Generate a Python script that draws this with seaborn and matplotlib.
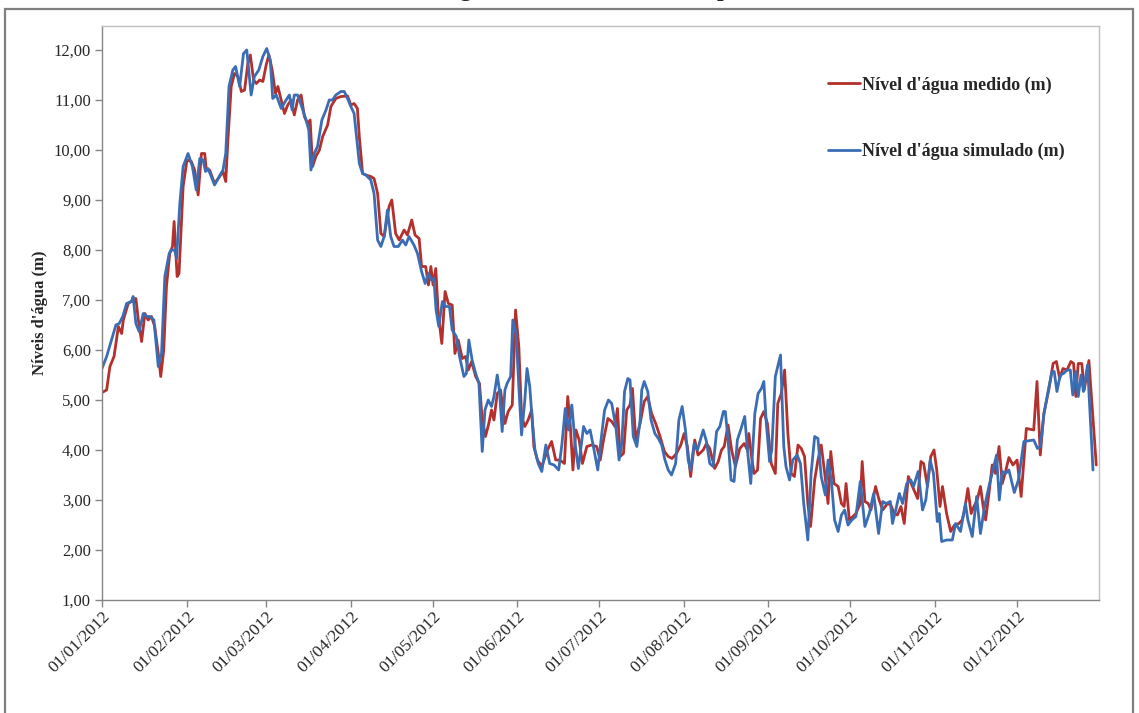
import numpy as np
import pandas as pd
import matplotlib
matplotlib.use("Agg")
import matplotlib.pyplot as plt
import matplotlib.dates as mdates
from matplotlib.patches import Rectangle
from matplotlib.ticker import FuncFormatter
import seaborn as sns

# Measured water level (m): day of year 2012 (0 = 01/01) and level
medido_dias = [
    0, 1.7, 2.9, 4.4, 6.0, 7.2, 7.8, 9.6, 11.4, 12.4, 13.3, 14.5, 15.7, 16.9, 18.1, 19.3,
    20.6, 21.5, 22.6, 23.6, 24.8, 25.8, 26.4, 27.5, 28.2, 29.7, 31.1, 32.7, 33.9, 35.2,
    36.4, 37.6, 38.2, 39.4, 41.2, 43.1, 44.3, 45.3, 46.1, 47.3, 48.5, 49.8, 51.0, 52.2,
    53.4, 54.3, 55.5, 56.5, 57.7, 58.9, 60.1, 61.1, 62.3, 63.5, 64.4, 65.6, 66.8, 68.0,
    69.2, 70.4, 71.6, 72.9, 74.1, 75.3, 76.2, 77.1, 78.3, 79.6, 80.8, 82.6, 83.8, 85.6,
    87.5, 89.9, 91.1, 92.3, 93.5, 94.2, 95.4, 96.6, 98.4, 99.6, 100.9, 102.1, 103.3,
    105.1, 106.1, 107.5, 108.8, 110.6, 111.8, 113.4, 114.6, 116.1,
    117.0, 118.5, 119.5, 120.4, 121.2, 122.2, 123.1, 124.4, 125.6, 126.8, 128.2, 129.2,
    130.4, 131.9, 133.1, 134.1, 135.3, 136.8, 138.2, 139.2, 140.4, 141.6, 142.6, 143.5,
    144.7, 145.9, 147.5, 148.7, 150.2, 151.4, 152.6, 153.6, 154.8, 156.0, 157.3, 158.1,
    159.4, 161.0, 163.1, 164.6, 166.1,
    167.6, 169.3, 170.5, 171.4, 172.4, 173.5, 174.7, 175.9, 177.5, 179.3, 181.1, 182.4,
    183.6, 185.2, 186.6, 187.8, 188.7, 189.7, 190.9, 192.1, 193.3, 194.2, 195.4, 197.0,
    198.5, 199.8, 201.2, 202.7, 204.3, 205.9, 207.3, 208.7, 210.3, 211.9, 213.1, 214.3,
    215.5, 217.0,
    218.2, 220.1, 221.3, 222.5, 224.3, 225.6, 226.8, 227.8, 229.2, 230.5, 231.9, 233.5,
    235.1, 236.3, 236.8, 237.8, 238.7, 240.0, 241.1, 242.3, 243.6, 245.0, 246.5, 247.4,
    248.7, 249.9, 251.1, 252.3, 253.5, 254.8, 256.0, 257.2, 258.4, 259.4, 260.9, 262.1,
    263.3, 264.6, 265.8, 266.8, 268.0, 269.5, 270.7, 271.7, 272.4, 273.6,
    276.0, 277.6, 278.3, 279.3, 280.5, 281.5, 283.2, 284.5, 285.8, 287.6, 288.8, 290.0,
    291.2, 292.5, 293.7, 295.2, 296.7, 298.6, 299.8, 300.8, 302.2, 303.4, 304.6, 305.6,
    306.8, 307.7, 309.2, 310.7, 312.1, 313.7, 314.9, 315.8, 317.0, 318.2, 319.2, 320.4,
    321.6, 322.6, 323.5, 324.7, 325.9, 327.1, 328.4, 329.6, 330.8,
    332.0, 333.5, 335.0, 336.5, 338.4, 341.1, 342.3, 343.5, 344.8, 346.6, 348.2, 349.4,
    350.6, 351.8, 353.3, 354.7, 355.7, 356.5, 357.4, 358.7, 359.6, 361.3, 364.0,
]
medido_niveis = [
    5.15, 5.20, 5.67, 5.87, 6.47, 6.33, 6.60, 6.93, 7.00, 7.03, 6.60, 6.17, 6.73, 6.60, 6.67, 6.47,
    5.93, 5.47, 6.00, 7.27, 7.93, 8.07, 8.57, 7.47, 7.53, 9.27, 9.80, 9.77, 9.60, 9.10,
    9.93, 9.93, 9.60, 9.60, 9.33, 9.47, 9.57, 9.37, 10.20, 11.27, 11.53, 11.47, 11.17, 11.20,
    11.73, 11.90, 11.40, 11.33, 11.40, 11.37, 11.70, 11.90, 11.60, 11.13, 11.27, 11.00, 10.73, 10.90,
    11.00, 10.70, 11.00, 11.10, 10.67, 10.53, 10.60, 9.67, 9.87, 10.00, 10.27, 10.50, 10.87, 11.03,
    11.07, 11.08, 10.90, 10.93, 10.83, 10.27, 9.53, 9.50, 9.47, 9.43, 9.13, 8.33, 8.27,
    8.87, 9.00, 8.33, 8.20, 8.40, 8.30, 8.60, 8.30, 8.23,
    7.67, 7.67, 7.30, 7.67, 7.30, 7.63, 6.73, 6.13, 7.17, 6.93, 6.90, 5.93,
    6.20, 5.83, 5.87, 5.60, 5.77, 5.47, 5.33, 4.60, 4.27, 4.53, 4.80, 4.60,
    5.13, 5.20, 4.53, 4.77, 4.90, 6.80, 6.07, 4.67, 4.47, 4.60, 4.80, 4.07,
    3.80, 3.67, 4.00, 4.17, 3.80,
    3.80, 3.73, 5.07, 4.53, 3.60, 4.40, 4.20, 3.73, 4.07, 4.10, 4.07, 3.80,
    4.20, 4.63, 4.57, 4.47, 4.83, 3.87, 3.93, 4.80, 4.90, 5.23, 4.20, 4.53,
    4.97, 5.07, 4.73, 4.53, 4.27, 3.97, 3.87, 3.83, 3.93, 4.10, 4.33, 4.07,
    3.47, 4.20,
    3.90, 4.00, 4.13, 4.03, 3.63, 3.77, 4.00, 4.07, 4.50, 4.00, 3.67, 4.03,
    4.13, 4.00, 4.33, 3.87, 3.53, 3.60, 4.63, 4.77, 4.53, 3.73, 3.53, 4.93,
    5.13, 5.60, 4.33, 3.53, 3.47, 4.10, 4.03, 3.87, 2.93, 2.47, 3.40, 3.80,
    4.10, 3.53, 2.93, 3.97, 3.33, 3.27, 2.93, 2.87, 3.33, 2.60,
    2.73, 2.93, 3.77, 2.97, 2.93, 2.80, 3.27, 3.00, 2.80, 2.93, 2.90, 2.73,
    2.70, 2.87, 2.53, 3.47, 3.27, 3.03, 3.77, 3.73, 3.27, 3.87, 4.00, 3.60,
    2.87, 3.27, 2.73, 2.37, 2.50, 2.53, 2.60, 2.80, 3.23, 2.73, 2.87, 3.00,
    3.27, 2.87, 2.60, 3.13, 3.70, 3.53, 4.07, 3.33, 3.57,
    3.85, 3.70, 3.80, 3.07, 4.43, 4.40, 5.37, 3.90, 4.73, 5.20, 5.73, 5.77,
    5.43, 5.63, 5.60, 5.77, 5.73, 5.07, 5.73, 5.73, 5.20, 5.79, 3.70,
]

# Simulated water level (m): day of year 2012 (0 = 01/01) and level
simulado_dias = [
    0, 1.7, 3.5, 5.1, 6.3, 7.6, 9.0, 10.8, 11.4, 12.4, 13.6, 15.1, 16.3, 17.5, 19.0, 20.6,
    21.8, 23.0, 24.6, 25.4, 26.6, 27.3, 28.5, 29.7, 31.5, 33.1, 34.5, 35.8, 37.0, 37.9,
    38.8, 40.0, 41.2, 42.5, 44.3, 45.3, 46.5, 47.9, 48.9, 50.4, 51.8, 53.0, 54.6, 55.8,
    57.4, 58.9, 60.3, 61.6, 62.5, 63.8, 65.6, 67.4, 68.6, 69.6, 70.4, 71.6, 72.9, 74.7,
    75.7, 76.5, 77.7, 78.9, 80.5, 82.0, 83.2, 84.4, 85.6, 87.5,
    88.7, 89.9, 91.1, 92.3, 94.2, 95.4, 96.6, 98.4, 99.6, 100.9, 102.1, 103.3, 104.5,
    105.7, 106.9, 108.5, 110.0, 111.2, 112.4, 114.2, 115.5,
    117.0, 118.3, 119.5, 120.6, 121.5, 122.3, 123.3, 124.6, 125.8, 127.2, 128.2, 129.7,
    130.9, 132.5, 133.4, 134.3, 135.5, 136.8, 138.0, 139.2, 140.2, 141.4, 142.6, 143.5,
    144.7, 145.5, 146.5, 147.5, 148.3, 149.6, 150.4, 151.6, 152.6, 153.6, 154.8, 155.6,
    156.6, 157.5, 158.5, 159.7, 161.0, 162.5, 163.9, 165.5, 167.2,
    168.4, 169.6, 170.8, 172.0, 173.2, 174.4, 176.3, 177.5, 178.7, 179.9, 181.5, 182.7,
    184.0, 185.4, 186.6, 188.1, 189.3, 190.3, 191.3, 192.5, 193.3, 194.5, 195.8, 197.0,
    197.6, 198.5, 199.8, 201.0, 202.4, 203.7, 204.9, 206.1, 207.3, 208.5, 210.0, 211.2,
    212.4, 213.6, 214.6, 215.5, 216.8, 218.0,
    220.1, 221.3, 222.5, 223.7, 225.0, 226.2, 227.5, 228.2, 229.2, 230.3, 231.4, 232.6,
    233.8, 235.3, 236.3, 237.5, 239.0, 240.2, 241.4, 242.3, 243.2, 244.4, 245.2, 246.5,
    247.4, 248.4, 249.6, 250.4, 251.7, 252.9, 254.5, 255.7, 256.9, 258.4, 259.6, 260.9,
    262.1, 263.3, 264.8, 265.8, 267.0, 268.2, 269.5, 270.7, 271.9, 273.1,
    274.5, 276.0, 277.6, 279.3, 280.9, 282.5, 284.3, 285.8, 287.0, 288.6, 289.4, 290.6,
    291.9, 293.1, 294.6, 296.1, 297.1, 298.8, 300.4, 301.6, 303.2, 304.4, 305.8, 306.5,
    307.4, 309.2, 311.3, 312.5, 314.3, 316.1, 317.0, 318.6, 320.2, 321.6, 323.1, 324.7,
    326.5, 327.5, 328.5, 329.6, 330.8,
    332.0, 334.0, 335.5, 337.5, 341.1, 342.5, 343.5, 344.8, 346.2, 347.8, 348.6, 349.6,
    350.8, 352.0, 353.3, 354.5, 355.4, 356.5, 357.4, 358.4, 359.3, 360.8, 362.8,
]
simulado_niveis = [
    5.63, 5.87, 6.20, 6.50, 6.53, 6.67, 6.93, 6.97, 7.07, 6.53, 6.37, 6.73, 6.67, 6.67, 6.60, 5.67,
    5.93, 7.47, 7.93, 8.00, 8.00, 7.83, 8.93, 9.67, 9.93, 9.67, 9.20, 9.83, 9.80, 9.57,
    9.63, 9.47, 9.30, 9.43, 9.60, 9.93, 11.27, 11.60, 11.67, 11.27, 11.93, 12.00, 11.10, 11.47,
    11.60, 11.87, 12.03, 11.80, 11.03, 11.10, 10.83, 11.00, 11.10, 10.80, 11.10, 11.10, 10.90, 10.60,
    10.40, 9.60, 9.93, 10.07, 10.60, 10.80, 11.00, 11.00, 11.10, 11.17,
    11.17, 11.03, 10.87, 10.73, 9.73, 9.53, 9.50, 9.40, 9.13, 8.20, 8.07, 8.27, 8.80,
    8.27, 8.07, 8.07, 8.20, 8.10, 8.27, 8.10, 7.93,
    7.57, 7.33, 7.53, 7.40, 7.43, 6.80, 6.47, 6.97, 6.87, 6.87, 6.40, 6.27,
    5.87, 5.47, 5.53, 6.20, 5.80, 5.53, 5.33, 3.97, 4.80, 5.00, 4.87, 5.07,
    5.50, 5.20, 4.37, 5.20, 5.33, 5.47, 6.60, 6.33, 5.27, 4.30, 5.00, 5.63,
    5.27, 4.60, 4.00, 3.73, 3.57, 4.10, 3.73, 3.70, 3.60,
    4.13, 4.83, 4.40, 4.90, 4.13, 3.63, 4.47, 4.33, 4.40, 4.07, 3.60, 4.20,
    4.80, 5.00, 4.93, 4.47, 3.80, 4.13, 5.17, 5.43, 5.40, 4.27, 4.07, 4.60,
    5.20, 5.37, 5.17, 4.60, 4.33, 4.23, 4.10, 3.80, 3.60, 3.50, 3.73, 4.60,
    4.87, 4.40, 3.80, 3.60, 4.13, 4.00,
    4.40, 4.17, 3.73, 3.67, 4.37, 4.47, 4.77, 4.77, 4.20, 3.40, 3.37, 4.20,
    4.40, 4.67, 4.00, 3.33, 4.73, 5.13, 5.23, 5.37, 4.53, 3.77, 4.00, 5.47,
    5.67, 5.90, 4.07, 3.67, 3.40, 3.80, 3.90, 3.73, 2.93, 2.20, 3.53, 4.27,
    4.23, 3.47, 3.10, 3.80, 3.40, 2.60, 2.37, 2.70, 2.80, 2.50,
    2.60, 2.67, 3.37, 2.47, 2.73, 3.13, 2.33, 2.97, 2.93, 2.97, 2.53, 2.80,
    3.13, 2.93, 3.33, 3.40, 3.27, 3.57, 2.80, 3.00, 3.80, 3.53, 2.57, 2.73,
    2.17, 2.20, 2.20, 2.53, 2.37, 2.93, 2.60, 2.27, 3.07, 2.33, 2.87, 3.27,
    3.67, 3.90, 3.00, 3.57, 3.53,
    3.60, 3.15, 3.40, 4.17, 4.20, 4.03, 4.07, 4.70, 5.13, 5.57, 5.57, 5.17,
    5.50, 5.53, 5.60, 5.60, 5.10, 5.57, 5.07, 5.50, 5.17, 5.70, 3.60,
]

serie_nomes = ["Nível d'água medido (m)", "Nível d'água simulado (m)"]
serie_cores = ["#B3302C", "#3A6DB3"]
y_ticks = [1, 2, 3, 4, 5, 6, 7, 8, 9, 10, 11, 12]
titulo = "Gráfico 4 - Níveis d'água medidos e simulados para o ano de 2012"
rotulo_y = "Níveis d'água (m)"

inicio = pd.Timestamp("2012-01-01")
df = pd.concat([
    pd.DataFrame({
        "data": inicio + pd.to_timedelta(medido_dias, unit="D"),
        "nivel": medido_niveis,
        "serie": serie_nomes[0],
    }),
    pd.DataFrame({
        "data": inicio + pd.to_timedelta(simulado_dias, unit="D"),
        "nivel": simulado_niveis,
        "serie": serie_nomes[1],
    }),
], ignore_index=True)

sns.set_theme(style="white")
plt.rcParams["font.family"] = ["Liberation Serif", "DejaVu Serif"]

fig = plt.figure(figsize=(11.39, 7.13), dpi=100)
ax = fig.add_axes([102 / 1139, 1 - 600 / 713, 997 / 1139, 574 / 713])

sns.lineplot(
    data=df, x="data", y="nivel", hue="serie", hue_order=serie_nomes,
    palette=serie_cores, estimator=None, sort=True, linewidth=2.0,
    legend=False, ax=ax,
)

ax.set_xlim(pd.Timestamp("2012-01-01"), pd.Timestamp("2012-12-31"))
ax.set_ylim(1, 12.48)
ax.set_yticks(y_ticks)
ax.yaxis.set_major_formatter(FuncFormatter(lambda v, p: f"{v:.2f}".replace(".", ",")))
ax.xaxis.set_major_locator(mdates.MonthLocator())
ax.xaxis.set_major_formatter(mdates.DateFormatter("%d/%m/%Y"))
ax.set_xlabel("")
ax.set_ylabel(rotulo_y, fontsize=12, fontweight="bold", labelpad=4)

ax.tick_params(axis="y", direction="out", length=5, width=1, color="#868686",
               labelsize=12, pad=3, left=True)
ax.tick_params(axis="x", direction="out", length=5, width=1, color="#868686",
               labelsize=12.5, pad=1, bottom=True)
for lbl in ax.get_xticklabels():
    lbl.set_rotation(45)
    lbl.set_ha("right")
    lbl.set_rotation_mode("anchor")

for side in ["left", "bottom"]:
    ax.spines[side].set_color("#868686")
    ax.spines[side].set_linewidth(1.0)
for side in ["top", "right"]:
    ax.spines[side].set_color("#C0C0C0")
    ax.spines[side].set_linewidth(1.0)
ax.grid(False)

leg = ax.legend(
    handles=ax.lines[:2], labels=serie_nomes,
    loc="upper left", bbox_to_anchor=(821 / 1139, 1 - 69 / 713),
    bbox_transform=fig.transFigure, frameon=False,
    prop={"weight": "bold", "size": 13}, handlelength=1.75,
    handletextpad=0.12, labelspacing=2.75, borderaxespad=0,
)

# Chart frame and its heading
fig.patches.append(Rectangle((5 / 1139, -0.02), 1128 / 1139, 1 - 9 / 713 + 0.02,
                             transform=fig.transFigure, fill=False,
                             edgecolor="#7F7F7F", linewidth=1.6))
fig.text(577 / 1139, 1 + 4 / 713, titulo, ha="center", va="baseline",
         fontsize=17, fontweight="bold")

fig.savefig("out.png", dpi=100, facecolor="white")
